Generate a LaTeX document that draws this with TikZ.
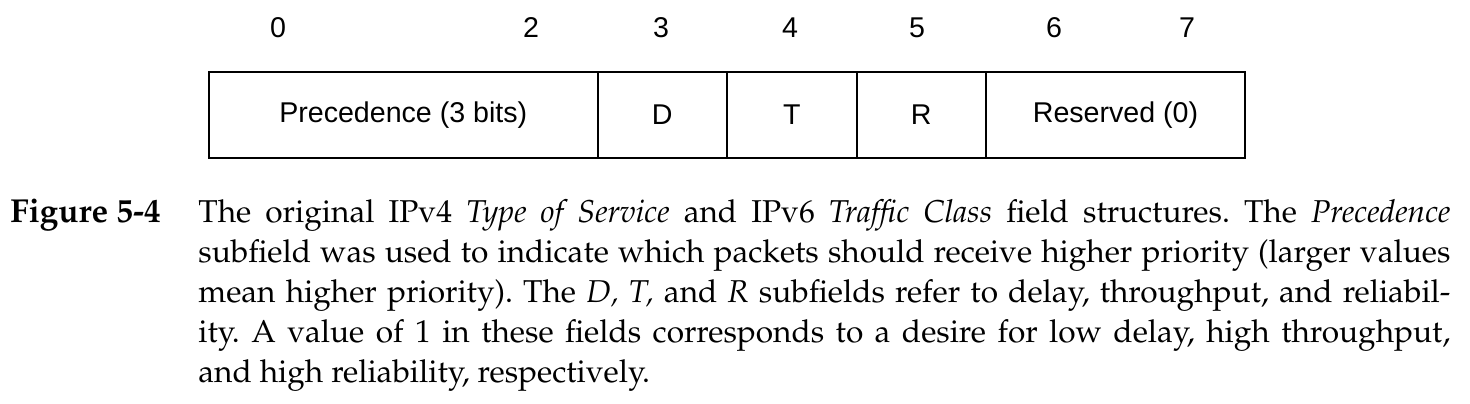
\documentclass[tikz,border=0pt]{standalone}
\usepackage[T1]{fontenc}
\usepackage{fontspec}
\newfontfamily\arialf{Liberation Sans}
\newcommand{\palfont}{\fontencoding{T1}\fontfamily{ppl}\selectfont}
\tikzset{
  field/.style={draw=black, line width=1pt, minimum height=43pt, inner sep=0pt, anchor=north west, font=\arialf\fontsize{14.3}{17}\selectfont},
  bitnum/.style={anchor=base, inner sep=0pt, font=\arialf\fontsize{14.3}{17}\selectfont},
}
\begin{document}
\begin{tikzpicture}[x=0.5pt,y=-0.5pt]
\useasboundingbox (0,0) rectangle (1470,403);
% fields
\node[field, minimum width=194.25pt] (prec) at (208,71) {Precedence (3 bits)};
\node[field, minimum width=64.75pt] (d) at (596.5,71) {D};
\node[field, minimum width=64.75pt] (t) at (726,71) {T};
\node[field, minimum width=64.75pt] (r) at (855.5,71) {R};
\node[field, minimum width=129.5pt] (res) at (985,71) {Reserved (0)};
% bit numbers
\node[bitnum] (n0) at (278,37) {0};
\node[bitnum] (n2) at (531,37) {2};
\node[bitnum] (n3) at (661,37) {3};
\node[bitnum] (n4) at (790,37) {4};
\node[bitnum] (n5) at (917,37) {5};
\node[bitnum] (n6) at (1054,37) {6};
\node[bitnum] (n7) at (1187,37) {7};
% caption
\node[anchor=base west, inner sep=0pt, font=\palfont\bfseries\fontsize{16.6}{20}\selectfont] (figlab) at (10,222) {Figure 5-4};
\node[anchor=base west, inner sep=0pt, text width=626pt, align=justify, font=\palfont\fontsize{15.8}{20}\selectfont] (cap) at (198,222) {\frenchspacing\hyphenpenalty=10000 The original IPv4 \textit{Type of Service} and IPv6 \textit{Traffic Class} field structures. The \textit{Precedence}\linebreak subfield was used to indicate which packets should receive higher priority (larger values\linebreak mean higher priority). The \textit{D, T,} and \textit{R} subfields refer to delay, throughput, and reliabil-\linebreak ity. A value of 1 in these fields corresponds to a desire for low delay, high throughput,\linebreak and high reliability, respectively.\par};
\end{tikzpicture}
\end{document}
